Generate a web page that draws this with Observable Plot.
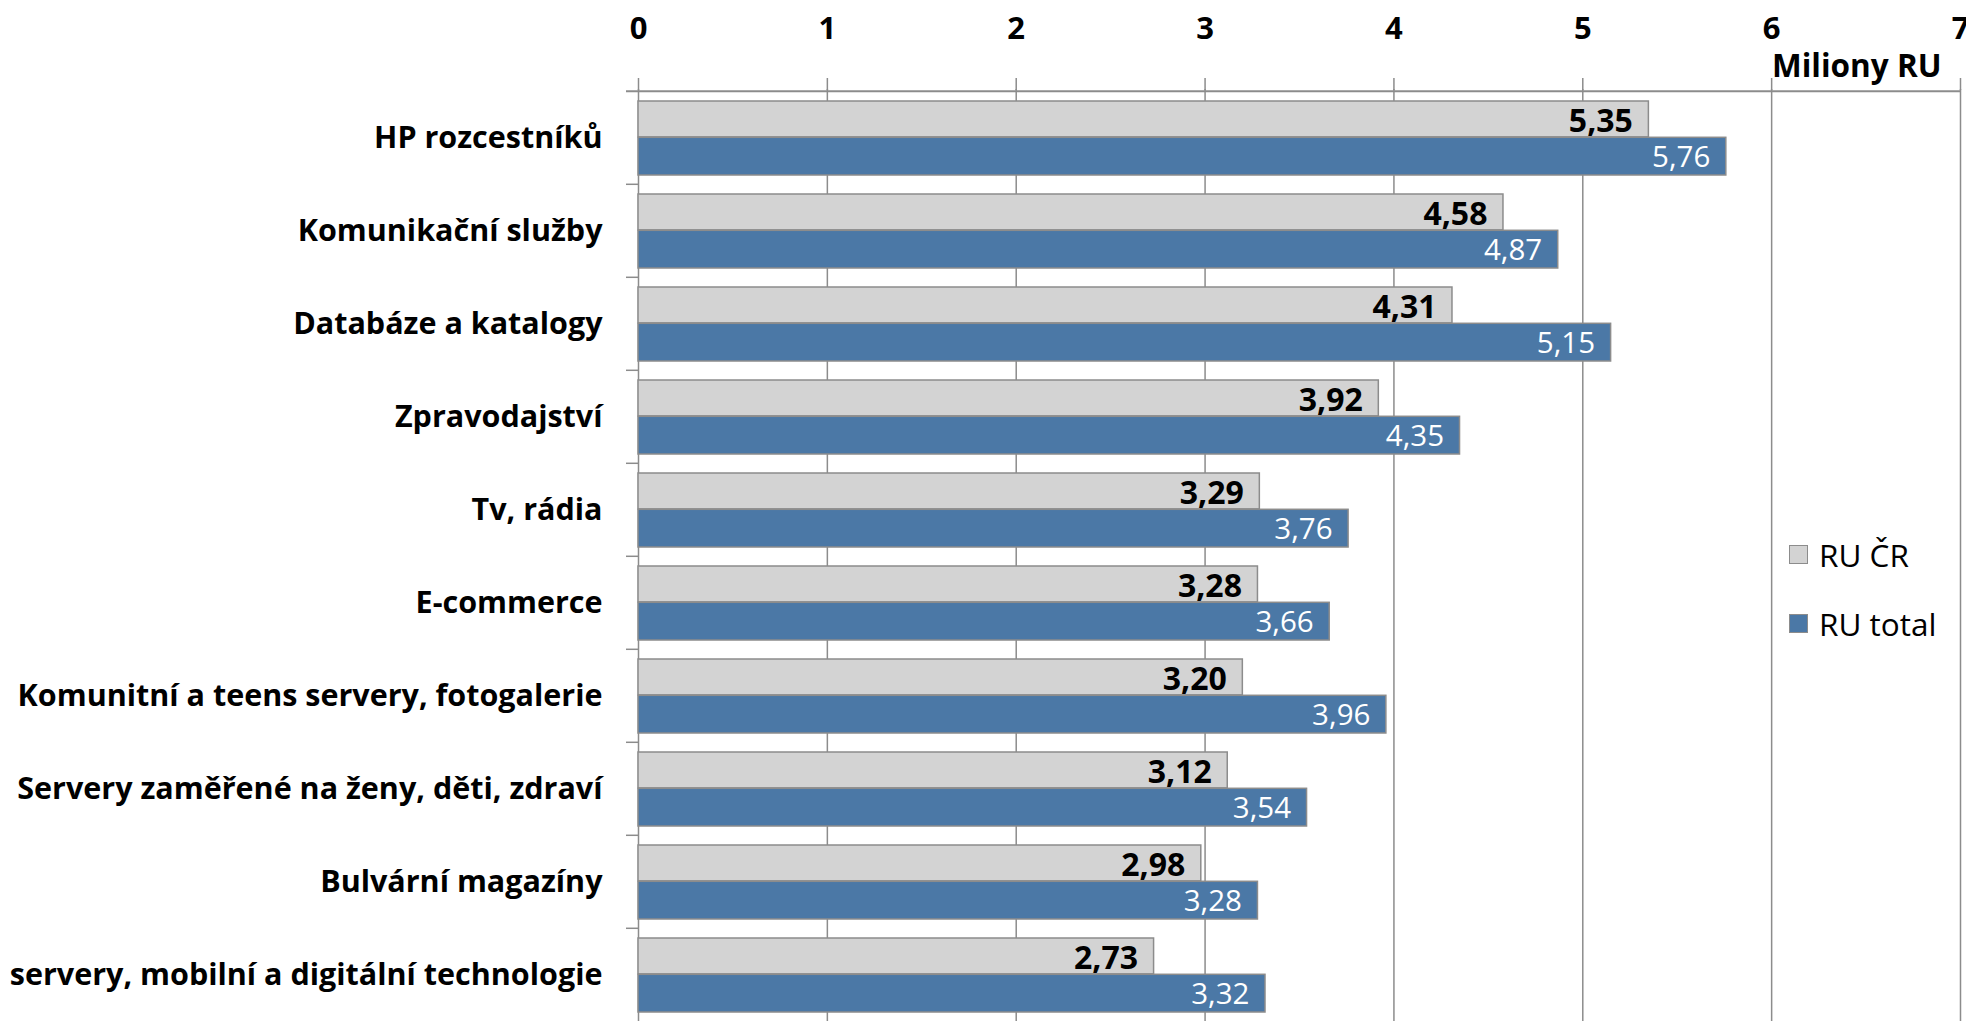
<!DOCTYPE html>
<html>
<head>
<meta charset="utf-8">
<script src="https://cdn.jsdelivr.net/npm/d3@7"></script>
<script src="https://cdn.jsdelivr.net/npm/@observablehq/plot@0.6"></script>
<style>
  html, body { margin: 0; padding: 0; background: white; }
  #wrap { position: relative; width: 1966px; height: 1021px; overflow: hidden; }
  #legend { position: absolute; left: 1789px; top: 536px; font-family: "Open Sans", sans-serif; font-size: 31.5px; color: #000; }
  #legend .item { display: flex; align-items: center; height: 36px; margin-bottom: 33px; }
  #legend .sw { width: 17px; height: 17px; border: 1.5px solid #8c8c8c; margin-right: 11px; }
</style>
</head>
<body>
<div id="wrap"></div>
<script>
const categories = [
  "HP rozcestníků",
  "Komunikační služby",
  "Databáze a katalogy",
  "Zpravodajství",
  "Tv, rádia",
  "E-commerce",
  "Komunitní a teens servery, fotogalerie",
  "Servery zaměřené na ženy, děti, zdraví",
  "Bulvární magazíny",
  "servery, mobilní a digitální technologie"
];
const series = ["RU ČR", "RU total"];
const ruCR    = [5.35, 4.58, 4.31, 3.92, 3.29, 3.28, 3.20, 3.12, 2.98, 2.73];
const ruTotal = [5.76, 4.87, 5.15, 4.35, 3.76, 3.66, 3.96, 3.54, 3.28, 3.32];
const xTicks = [0, 1, 2, 3, 4, 5, 6, 7];
const xUnitLabel = "Miliony RU";
const colors = ["#d3d3d3", "#4b78a6"];

const W = 1966, H = 1021, ML = 638, MR = 6, MT = 89, MB = -2;
const bw = (H - MT - MB) / categories.length;
const plotW = W - ML - MR;
const topPad = 10, split = 46.3, botPad = 9;

const dataCR = categories.map((c, i) => ({category: c, value: ruCR[i]}));
const dataTot = categories.map((c, i) => ({category: c, value: ruTotal[i]}));
const fmt = v => v.toFixed(2).replace(".", ",");
const gridColor = "#8c8c8c";

const chart = Plot.plot({
  width: W,
  height: H,
  marginLeft: ML,
  marginRight: MR,
  marginTop: MT,
  marginBottom: MB,
  style: {fontFamily: "'Open Sans', sans-serif", fontSize: "30px", color: "#000", background: "white", overflow: "hidden"},
  x: {domain: [0, 7], ticks: xTicks, axis: null},
  y: {domain: categories, padding: 0, axis: null},
  marks: [
    Plot.ruleX(xTicks, {stroke: gridColor, strokeWidth: 1.5}),
    Plot.ruleY(categories.slice(0, 1), {dy: -bw / 2, insetLeft: -12, stroke: gridColor, strokeWidth: 2}),
    Plot.ruleY(categories.slice(1), {dy: -bw / 2, insetLeft: -12, insetRight: plotW, stroke: gridColor, strokeWidth: 1.5}),
    Plot.barX(dataCR, {x: "value", y: "category", fill: colors[0], stroke: gridColor, strokeWidth: 1.5,
      insetTop: topPad, insetBottom: bw - split}),
    Plot.barX(dataTot, {x: "value", y: "category", fill: colors[1], stroke: gridColor, strokeWidth: 1.5,
      insetTop: split, insetBottom: botPad}),
    Plot.text(dataCR, {x: "value", y: "category", text: d => fmt(d.value), textAnchor: "end",
      dx: -16, dy: -16.7, fontWeight: "bold", fontSize: 32, fill: "#000"}),
    Plot.text(dataTot, {x: "value", y: "category", text: d => fmt(d.value), textAnchor: "end",
      dx: -16, dy: 19.8, fontSize: 29.5, fill: "#fff"}),
    Plot.axisY({anchor: "left", tickSize: 0, tickPadding: 36, fontWeight: "bold", fontSize: 30.5, label: null}),
    Plot.axisX(xTicks, {anchor: "top", tickSize: 12, tickPadding: 39, stroke: gridColor, strokeWidth: 1.5,
      tickFormat: d => String(d), fontWeight: "bold", fontSize: 31, label: null}),
    Plot.text([xUnitLabel], {text: d => d, frameAnchor: "top-right", textAnchor: "end", lineAnchor: "bottom",
      dx: -19, dy: -13, fontWeight: "bold", fontSize: 31.5})
  ]
});

const wrap = document.getElementById("wrap");
wrap.appendChild(chart);

const legend = document.createElement("div");
legend.id = "legend";
series.forEach((s, i) => {
  const item = document.createElement("div");
  item.className = "item";
  const sw = document.createElement("span");
  sw.className = "sw";
  sw.style.background = colors[i];
  const t = document.createElement("span");
  t.textContent = s;
  item.appendChild(sw);
  item.appendChild(t);
  legend.appendChild(item);
});
wrap.appendChild(legend);
</script>
</body>
</html>
